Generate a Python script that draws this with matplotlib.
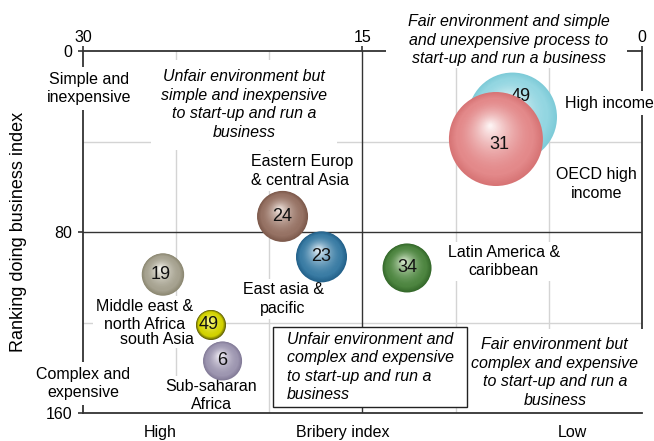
import matplotlib
matplotlib.use('Agg')
import matplotlib.pyplot as plt
from matplotlib.transforms import ScaledTranslation
from matplotlib.patches import Rectangle
from matplotlib.colors import to_rgb
import numpy as np

plt.rcParams['font.family'] = ['Liberation Sans', 'DejaVu Sans']

# ---- data ----
regions = ['High income', 'OECD high income', 'Eastern Europ & central Asia',
           'East asia & pacific', 'Latin America & caribbean',
           'Middle east & north Africa', 'south Asia', 'Sub-saharan Africa']
bribery = [6.95, 7.84, 19.29, 17.2, 12.61, 25.71, 23.13, 22.51]
ranking = [29.2, 38.9, 73.1, 91.0, 95.9, 98.8, 121.1, 137.0]
counts = [49, 31, 24, 23, 34, 19, 49, 6]
x_ticks = [30, 15, 0]
y_ticks = [0, 80, 160]

# ---- styles ----
bubble_radius_px = [44.5, 47, 25.5, 25.5, 24.5, 21.2, 15, 19.5]
edge_cols = ['#7ecbd8', '#d77475', '#7d5a4c', '#23618a', '#35692b', '#8c8872', '#5e5e08', '#837b98']
base_cols = ['#93d6e1', '#e3898a', '#967264', '#3a7ca4', '#4d8540', '#a6a290', '#d2d200', '#9d96b0']
hi_cols = ['#ffffff', '#fdf2f2', '#f0e4de', '#e2eef6', '#d6e8cc', '#f6f5ef', '#ffff9a', '#f4f1f8']
num_offsets_px = [(8, 21), (3, -5), (0, 0), (0, 0), (0, 0), (-2, 0), (-2, 0), (0, 0)]

fig = plt.figure(figsize=(6.54, 4.41), dpi=100)
ax = fig.add_axes([83/654, 1-413/441, 559/654, 362/441])
ax.set_xlim(30, 0)
ax.set_ylim(160, 0)

# grid
for gx in [25, 20, 10, 5]:
    ax.axvline(gx, color='#d4d4d4', lw=1.0, zorder=0.5)
for gy in [40, 120]:
    ax.axhline(gy, color='#d4d4d4', lw=1.0, zorder=0.5)
ax.axvline(15, color='#333333', lw=1.0, zorder=0.6)
ax.axhline(80, color='#333333', lw=1.0, zorder=0.6)

for s in ax.spines.values():
    s.set_color('#333333')
    s.set_linewidth(1.3)
ax.spines['bottom'].set_zorder(3.5)

ax.xaxis.tick_top()
ax.set_xticks(x_ticks)
ax.set_yticks(y_ticks)
ax.tick_params(axis='both', labelsize=11.5, length=3.5, width=1.2, color='#333333', pad=4)
ax.tick_params(axis='x', pad=1)

# bubbles
N = 40
for i in range(len(regions)):
    r = bubble_radius_px[i]
    e = np.array(to_rgb(edge_cols[i])); b = np.array(to_rgb(base_cols[i])); h = np.array(to_rgb(hi_cols[i]))
    z = 4 + i * 0.1
    for k in range(N):
        t = k / (N - 1)
        rr = r * (1 - 0.96 * t)
        dxp = -0.12 * r * t
        dyp = 0.28 * r * t
        if t < 0.18:
            c = e + (b - e) * (t / 0.18)
        else:
            u = (t - 0.18) / 0.82
            c = b + (h - b) * (u ** 1.6)
        c = tuple(float(v) for v in np.clip(c, 0, 1))
        tr = ax.transData + ScaledTranslation(dxp / 100, dyp / 100, fig.dpi_scale_trans)
        ax.scatter([bribery[i]], [ranking[i]], s=(2 * rr * 0.72) ** 2, c=[c],
                   edgecolors='none', transform=tr, zorder=z, clip_on=False)
    ox, oy = num_offsets_px[i]
    ax.annotate(str(counts[i]), (bribery[i], ranking[i]), xytext=(ox * 0.72, oy * 0.72),
                textcoords='offset points', ha='center', va='center', fontsize=13,
                color='#111111', zorder=z + 0.05)

LS = 1.3

def T(fx, fy, s, ha='center', italic=False, pad=0.25, ma=None, fs=11.5, **kw):
    bb = dict(boxstyle='square,pad=%g' % pad, fc='white', ec='none')
    ax.text(fx, fy, s, transform=ax.transAxes, ha=ha, va='center', fontsize=fs,
            style='italic' if italic else 'normal', bbox=bb, zorder=3,
            clip_on=False, multialignment=ma if ma else ha, linespacing=LS, **kw)

# white cover for the top-right quadrant title
ax.add_patch(Rectangle((0.542, 0.953), 0.431, 0.12, transform=ax.transAxes,
                       fc='white', ec='none', zorder=2.9, clip_on=False))
T(0.762, 1.030, 'Fair environment and simple\nand unexpensive process to\nstart-up and run a business', italic=True, pad=0.1)
T(0.288, 0.852, 'Unfair environment but\nsimple and inexpensive\nto start-up and run a\nbusiness', italic=True, pad=0.6)
T(0.011, 0.896, 'Simple and\ninexpensive', pad=0.3)
T(0.862, 0.856, 'High income', ha='left', pad=0.3)
T(0.918, 0.633, 'OECD high\nincome', pad=0.2)
T(0.3005, 0.669, 'Eastern Europ\n& central Asia', ha='left', pad=0.2)
T(0.358, 0.315, 'East asia &\npacific', pad=0.2)
T(0.753, 0.4185, 'Latin America &\ncaribbean', pad=0.2)
T(0.111, 0.269, 'Middle east &\nnorth Africa', pad=0.2)
T(0.132, 0.2017, 'south Asia', pad=0.05)
T(0.0, 0.0815, 'Complex and\nexpensive', pad=0.3)
T(0.229, 0.0483, 'Sub-saharan\nAfrica', pad=0.2)
T(0.844, 0.112, 'Fair environment but\ncomplex and expensive\nto start-up and run a\nbusiness', italic=True, pad=0.5)

# boxed quadrant label
ax.add_patch(Rectangle((0.340, 0.0166), 0.347, 0.221, transform=ax.transAxes,
                       fc='white', ec='#222222', lw=1.0, zorder=3.1))
ax.text(0.365, 0.127, 'Unfair environment and\ncomplex and expensive\nto start-up and run a\nbusiness',
        transform=ax.transAxes, ha='left', va='center', fontsize=11.5, style='italic',
        zorder=3.2, linespacing=LS)

# axis descriptors
ax.text(0.138, -0.055, 'High', transform=ax.transAxes, ha='center', va='center', fontsize=11.5)
ax.text(0.465, -0.055, 'Bribery index', transform=ax.transAxes, ha='center', va='center', fontsize=11.5)
ax.text(0.875, -0.055, 'Low', transform=ax.transAxes, ha='center', va='center', fontsize=11.5)
ax.text(-0.116, 0.5, 'Ranking doing business index', transform=ax.transAxes, ha='center',
        va='center', rotation=90, fontsize=13)

fig.savefig('out.png', dpi=100)
